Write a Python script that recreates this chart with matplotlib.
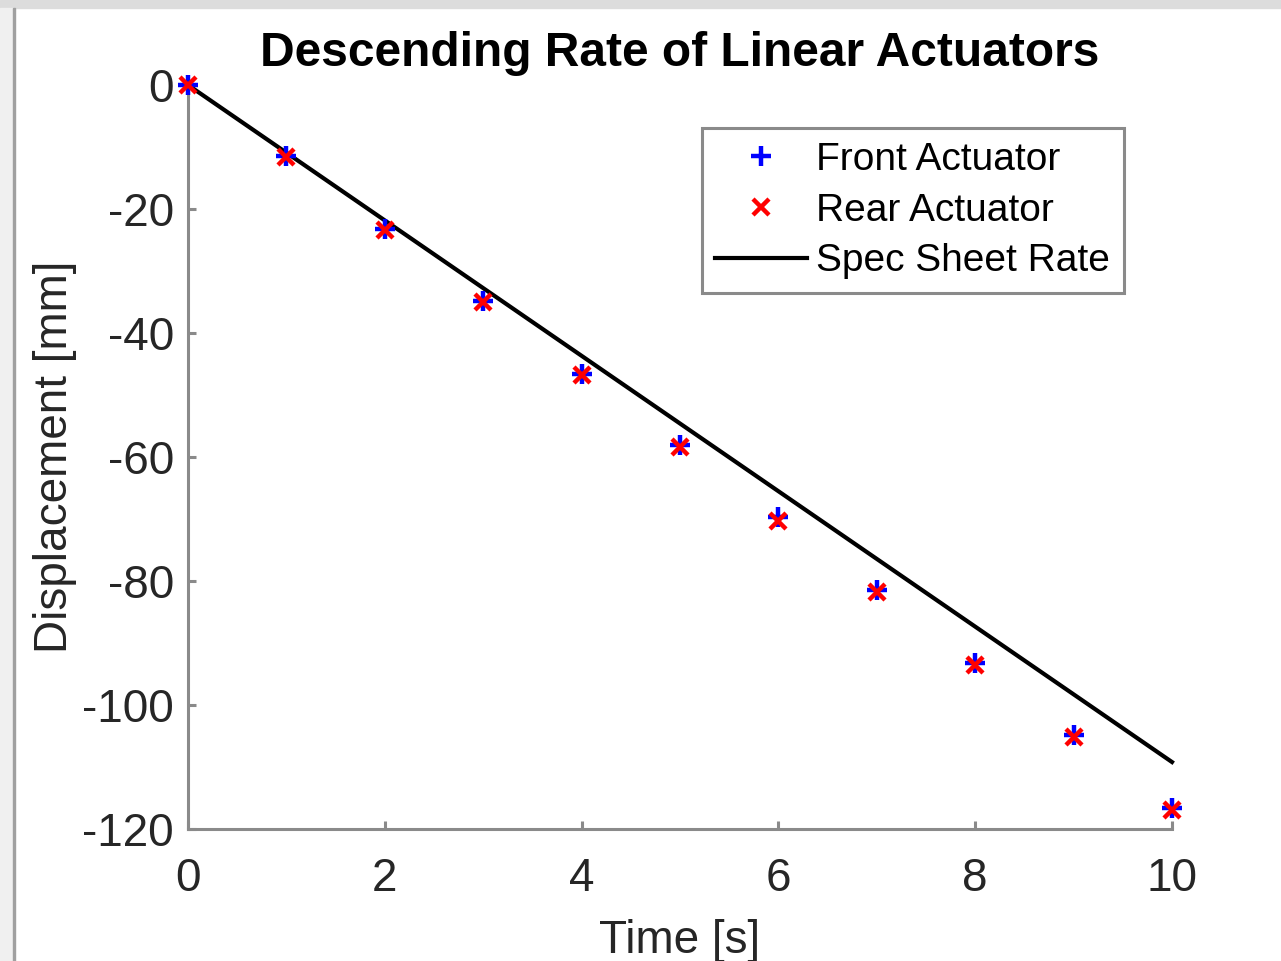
import matplotlib
import matplotlib.pyplot as plt
from matplotlib.patches import Rectangle

matplotlib.rc('font', family=['Liberation Sans', 'DejaVu Sans'])
matplotlib.rcParams['axes.unicode_minus'] = False

# measured displacements [mm]
time_s = [0, 1, 2, 3, 4, 5, 6, 7, 8, 9, 10]
front = [0, -11.4, -23.2, -34.8, -46.6, -58.1, -69.6, -81.5, -93.2, -104.9, -116.6]
rear = [0, -11.6, -23.4, -35.0, -46.8, -58.4, -70.4, -81.8, -93.6, -105.2, -117.0]
spec_t = [0, 10]
spec_y = [0, -109.2]

fig = plt.figure(figsize=(12.81, 9.61), dpi=100)
# screenshot frame
fig.patches.append(Rectangle((0, 1 - 8/961), 1, 8/961, transform=fig.transFigure,
                             color='#dcdcdc', zorder=0))
fig.patches.append(Rectangle((0, 0), 13/1281, 1 - 8/961, transform=fig.transFigure,
                             color='#f0f0f0', zorder=0))
fig.patches.append(Rectangle((13/1281, 0), 2/1281, 1 - 8/961, transform=fig.transFigure,
                             color='#a0a0a0', zorder=0))

ax = fig.add_axes([188/1281, 1 - 829/961, 984/1281, 744/961])

ax.plot(time_s, front, '+', color='b', markersize=14, markeredgewidth=3.2,
        label='Front Actuator', clip_on=False, zorder=3)
ax.plot(time_s, rear, 'x', color='r', markersize=11, markeredgewidth=3.2,
        label='Rear Actuator', clip_on=False, zorder=4)
ax.plot(spec_t, spec_y, '-', color='k', linewidth=3,
        label='Spec Sheet Rate', clip_on=False, zorder=2)

ax.set_xlim(0, 10)
ax.set_ylim(-120, 0)
ax.set_xticks([0, 2, 4, 6, 8, 10])
ax.set_yticks([-120, -100, -80, -60, -40, -20, 0])

for side in ['top', 'right']:
    ax.spines[side].set_visible(False)
for side in ['left', 'bottom']:
    ax.spines[side].set_color('#8a8a8a')
    ax.spines[side].set_linewidth(2.2)

ax.tick_params(direction='in', length=6, width=2.2, color='#8a8a8a',
               labelcolor='#262626', labelsize=33)
ax.tick_params(axis='x', pad=20)
ax.tick_params(axis='y', pad=10)

ax.set_xlabel('Time [s]', fontsize=33, color='#262626', labelpad=13)
ax.set_ylabel('Displacement [mm]', fontsize=33, color='#262626', labelpad=4)
ax.set_title('Descending Rate of Linear Actuators', fontsize=34.5, fontweight='bold', pad=14)

leg = ax.legend(loc='upper right', bbox_to_anchor=(0.951, 0.942), borderaxespad=0,
                fontsize=28, fancybox=False, edgecolor='#8a8a8a', framealpha=1,
                handlelength=2.35, handletextpad=0.25, borderpad=0.35, labelspacing=0.38)
leg.get_frame().set_linewidth(2.2)

fig.savefig('out.png', dpi=100)
